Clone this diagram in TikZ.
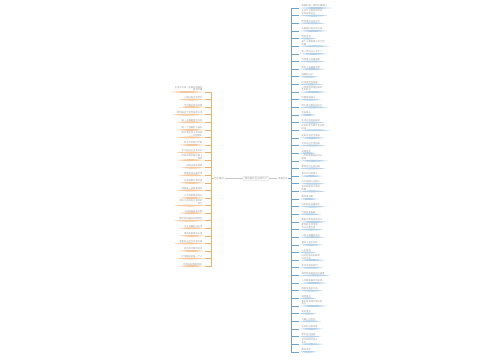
\documentclass[tikz,border=0pt]{standalone}
\usepackage{fontspec}
\newfontfamily\cjk{Noto Sans CJK SC}
\usetikzlibrary{calc}
\definecolor{orspine}{HTML}{EDB06E}
\definecolor{orline}{HTML}{F5C9A0}
\definecolor{blspine}{HTML}{6FA3CC}
\definecolor{blline}{HTML}{B4D1E8}
\definecolor{txt}{HTML}{9A9A9A}
\tikzset{
  leaftxt/.style={font=\cjk\fontsize{2.3}{2.8}\selectfont, text=txt, inner xsep=0.4pt, inner ysep=0.7pt},
  lleaf/.style={leaftxt, anchor=south east, align=right},
  rleaf/.style={leaftxt, anchor=south west, align=left},
  lul/.style={fill=orline},
  rul/.style={fill=blline},
  lconn/.style={draw=orspine, line width=0.6pt},
  rconn/.style={draw=blspine, line width=0.6pt},
  mainbox/.style={font=\cjk\fontsize{2.5}{3}\selectfont, text=txt, draw=gray!45, rounded corners=2pt, inner xsep=2pt, inner ysep=1pt, line width=0.3pt},
  subbox/.style={font=\cjk\fontsize{2.5}{3}\selectfont, text=txt, inner sep=0.5pt},
  mconn/.style={draw=gray!45, line width=0.4pt}
}
\begin{document}
\begin{tikzpicture}[x=1pt,y=-1pt]
\useasboundingbox (0,0) rectangle (500,360);
\node[mainbox] (c) at (256,178.5) {描写美好生活的句子};
\node[subbox] (ln) at (219,178.5) {句子摘抄};
\node[subbox] (rn) at (283,178.5) {优美句子};
\draw[mconn] (c.west) -- (ln.east);
\draw[mconn] (c.east) -- (rn.west);
% left leaves
\foreach \i/\t in {
 1/{生活中总有一些美好的瞬间\\值得珍藏},
 2/{心若向阳无畏悲伤},
 3/{岁月静好现世安稳},
 4/{愿你被这个世界温柔以待},
 5/{每一天都是新的开始},
 6/{做一个温暖的人就好},
 7/{阳光洒在身上的时候\\一切刚刚好},
 8/{时光不老我们不散},
 9/{平凡的日子也有光芒},
 10/{所有的美好都在路上\\等你},
 11/{风吹过来很温柔},
 12/{简单的快乐最珍贵},
 13/{生活明朗万物可爱},
 14/{慢慢来一切都来得及},
 15/{心中有爱眼里有光},
 16/{把日子过成自己喜欢的\\样子},
 17/{人间值得未来可期},
 18/{愿所有的美好如期而至},
 19/{今天也要好好生活},
 20/{保持热爱奔赴山海},
 21/{温柔的人运气不会太差},
 22/{且听风吟静待花开},
 23/{珍惜眼前的每一个人},
 24/{你若安好便是晴天}
}{
  \pgfmathsetmacro{\yy}{92+(\i-1)*7.57}
  \node[lleaf] (L\i) at (203,\yy) {\t};
  \coordinate (la) at ($(L\i.south west)+(-5,0)$);
  \coordinate (lb) at ($(L\i.south east)+(2,0)$);
  \fill[lul] (lb) .. controls ($(la)!0.5!(lb)+(0,1.3)$) .. (la)
     .. controls ($(la)!0.5!(lb)+(0,-1.3)$) .. (lb);
  \draw[lconn] (ln.west) -- ++(-2,0) |- (lb);
}
% right leaves
\foreach \i/\t in {
 1/{清晨的第一缕阳光最美好},
 2/{生活不止眼前的苟且\\还有诗和远方},
 3/{愿你眼中总有光芒},
 4/{向着美好的方向出发},
 5/{简单生活},
 6/{每个人都有属于自己的\\花期},
 7/{笑一笑没什么大不了},
 8/{世界很大风景很美},
 9/{愿你三冬暖春不寒},
 10/{温暖的日子},
 11/{时间会给你答案},
 12/{心怀感恩所遇皆美好\\不负时光},
 13/{你要悄悄拔尖},
 14/{努力成为更好的自己},
 15/{平安喜乐},
 16/{生活总会好起来的},
 17/{所有的努力都不会白费\\加油},
 18/{热爱可抵岁月漫长},
 19/{不念过往不畏将来},
 20/{从容淡定},
 21/{一年四季都是好时光\\值得},
 22/{愿你历尽千帆归来},
 23/{星光不问赶路人},
 24/{山川湖海人间烟火},
 25/{快乐就是这么简单\\的事},
 26/{晚风很温柔},
 27/{日出有盼日落有念},
 28/{万物皆有裂痕},
 29/{那是光照进来的地方},
 30/{愿你的生活常温\\不必大富大贵},
 31/{心有山海静而无边},
 32/{春风十里不如你},
 33/{人生海海},
 34/{好好吃饭好好睡觉\\好好生活},
 35/{花开花落自有时},
 36/{满怀希望就会所向披靡},
 37/{一切都是最好的安排},
 38/{眼里有星辰大海},
 39/{保持善良},
 40/{我们终将成为更好的\\自己},
 41/{知足常乐},
 42/{只要心中有光},
 43/{生活处处有惊喜},
 44/{愿岁月可回首},
 45/{且以深情共白头\\永远},
 46/{晚安世界}
}{
  \pgfmathsetmacro{\yy}{8+(\i-1)*7.64}
  \node[rleaf] (R\i) at (301,\yy) {\t};
  \coordinate (ra) at ($(R\i.south east)+(5,0)$);
  \coordinate (rb) at ($(R\i.south west)+(-2,0)$);
  \fill[rul] (rb) .. controls ($(ra)!0.5!(rb)+(0,1.3)$) .. (ra)
     .. controls ($(ra)!0.5!(rb)+(0,-1.3)$) .. (rb);
  \draw[rconn] (rn.east) -- ++(2.5,0) |- (rb);
}
\end{tikzpicture}
\end{document}
